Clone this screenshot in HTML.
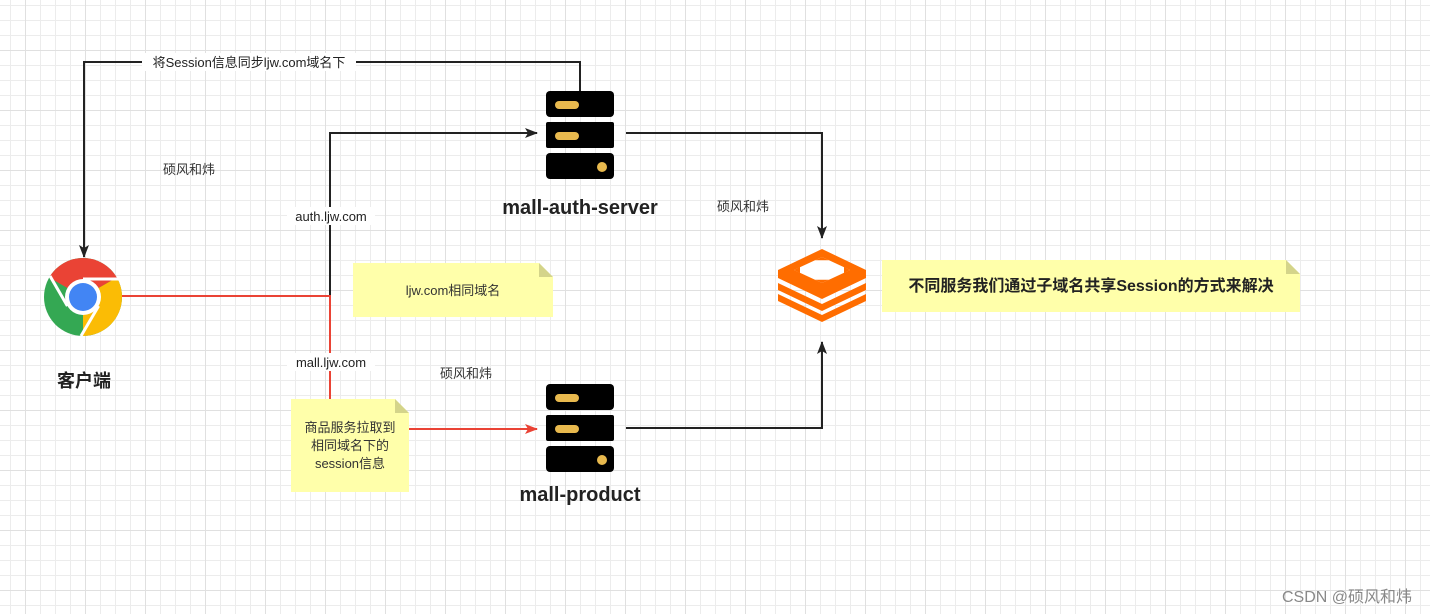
<!DOCTYPE html>
<html><head><meta charset="utf-8"><style>
html,body{margin:0;padding:0;background:#fff}
svg{display:block}
text{font-family:"Liberation Sans","Noto Sans CJK SC",sans-serif}
</style></head><body>
<svg width="1430" height="614" viewBox="0 0 1430 614" xmlns="http://www.w3.org/2000/svg">
<defs>
<pattern id="g" x="10" y="5" width="15" height="15" patternUnits="userSpaceOnUse">
<path d="M0.5 0V15M0 0.5H15" stroke="#ececec" stroke-width="1" fill="none"/>
</pattern>
<pattern id="G" x="25" y="50" width="60" height="60" patternUnits="userSpaceOnUse">
<path d="M0.5 0V60M0 0.5H60" stroke="#e0e0e0" stroke-width="1" fill="none"/>
</pattern>
<marker id="a" markerWidth="14" markerHeight="12" refX="12" refY="6" orient="auto" markerUnits="userSpaceOnUse"><path d="M0 1L13 6L0 11L3 6Z" fill="#222"/></marker>
<marker id="r" markerWidth="14" markerHeight="12" refX="12" refY="6" orient="auto" markerUnits="userSpaceOnUse"><path d="M0 1L13 6L0 11L3 6Z" fill="#ea4335"/></marker>
<g id="srv">
<rect x="0" y="0" width="68" height="26" rx="4" fill="#000"/>
<rect x="0" y="31" width="68" height="26" rx="2" fill="#000"/>
<rect x="0" y="62" width="68" height="26" rx="4" fill="#000"/>
<rect x="9" y="10" width="24" height="8" rx="4" fill="#e8b94e"/>
<rect x="9" y="41" width="24" height="8" rx="4" fill="#e8b94e"/>
<circle cx="56" cy="76" r="5" fill="#e8b94e"/>
</g>
</defs>
<rect width="1430" height="614" fill="url(#g)"/>
<rect width="1430" height="614" fill="url(#G)"/>

<!-- connectors -->
<path d="M580 91V62H84V257" fill="none" stroke="#222" stroke-width="2" marker-end="url(#a)"/>
<rect x="142" y="53" width="214" height="18" fill="#fff"/>
<text x="249" y="67" font-size="13" text-anchor="middle" fill="#222">将Session信息同步ljw.com域名下</text>

<path d="M330 295V133H537" fill="none" stroke="#222" stroke-width="2" marker-end="url(#a)"/>
<path d="M122 296H330V399" fill="none" stroke="#ea4335" stroke-width="2"/>
<rect x="287" y="207" width="88" height="18" fill="#fff"/>
<text x="331" y="221" font-size="13" text-anchor="middle" fill="#222">auth.ljw.com</text>
<rect x="287" y="353" width="88" height="18" fill="#fff"/>
<text x="331" y="367" font-size="13" text-anchor="middle" fill="#222">mall.ljw.com</text>
<path d="M409 429H537" fill="none" stroke="#ea4335" stroke-width="2" marker-end="url(#r)"/>

<path d="M626 133H822V238" fill="none" stroke="#222" stroke-width="2" marker-end="url(#a)"/>
<path d="M626 428H822V342" fill="none" stroke="#222" stroke-width="2" marker-end="url(#a)"/>

<!-- servers -->
<use href="#srv" x="546" y="91"/>
<use href="#srv" x="546" y="384"/>
<text x="580" y="214" font-size="20" font-weight="bold" text-anchor="middle" fill="#222">mall-auth-server</text>
<text x="580" y="501" font-size="20" font-weight="bold" text-anchor="middle" fill="#222">mall-product</text>

<!-- chrome -->
<g transform="translate(83,297)">
<circle r="39" fill="#34a853"/>
<path d="M0 0L-33.8 -19.5A39 39 0 0 1 33.8 -19.5Z" fill="#ea4335"/>
<path d="M0 0L33.8 -19.5A39 39 0 0 1 0 39Z" fill="#fbbc05"/>
<path d="M0 -18H38" stroke="#fff" stroke-width="3"/>
<path d="M-15.6 9L-33 -21" stroke="#fff" stroke-width="3"/>
<path d="M15.6 9L-2 39" stroke="#fff" stroke-width="3"/>
<circle r="18" fill="#fff"/>
<circle r="14" fill="#4285f4"/>
</g>
<text x="84" y="387" font-size="18" font-weight="bold" text-anchor="middle" fill="#222">客户端</text>

<!-- redis -->
<g fill="#ff6d00">
<path d="M778 294L822 315L866 294V301L822 322L778 301Z"/>
<path d="M778 283L822 304L866 283V290L822 311L778 290Z"/>
<path d="M778 270L822 249L866 270V278L822 299L778 278Z"/>
</g>
<path d="M794 270L822 257L850 270L822 283Z" fill="#fff"/>
<g fill="#ff6d00">
<path d="M794 270L800 267V273Z"/>
<path d="M850 270L844 267V273Z"/>
<path d="M815 260.3L822 257L829 260.3Z"/>
<path d="M815 279.7L822 283L829 279.7Z"/>
</g>

<!-- notes -->
<path d="M353 263H539L553 277V317H353Z" fill="#ffffaa"/>
<path d="M539 263V277H553Z" fill="#d4d48a"/>
<text x="453" y="295" font-size="13" text-anchor="middle" fill="#333">ljw.com相同域名</text>

<path d="M882 260H1286L1300 274V312H882Z" fill="#ffffaa"/>
<path d="M1286 260V274H1300Z" fill="#d4d48a"/>
<text x="1091" y="291" font-size="16" font-weight="bold" text-anchor="middle" fill="#222">不同服务我们通过子域名共享Session的方式来解决</text>

<path d="M291 399H395L409 413V492H291Z" fill="#ffffaa"/>
<path d="M395 399V413H409Z" fill="#d4d48a"/>
<text x="350" y="432" font-size="13" text-anchor="middle" fill="#333">商品服务拉取到</text>
<text x="350" y="450" font-size="13" text-anchor="middle" fill="#333">相同域名下的</text>
<text x="350" y="468" font-size="13" text-anchor="middle" fill="#333">session信息</text>

<text x="189" y="174" font-size="13" text-anchor="middle" fill="#333">硕风和炜</text>
<text x="743" y="211" font-size="13" text-anchor="middle" fill="#333">硕风和炜</text>
<text x="466" y="378" font-size="13" text-anchor="middle" fill="#333">硕风和炜</text>
<text x="1347" y="602" font-size="16" text-anchor="middle" fill="#888">CSDN @硕风和炜</text>
</svg>
</body></html>
